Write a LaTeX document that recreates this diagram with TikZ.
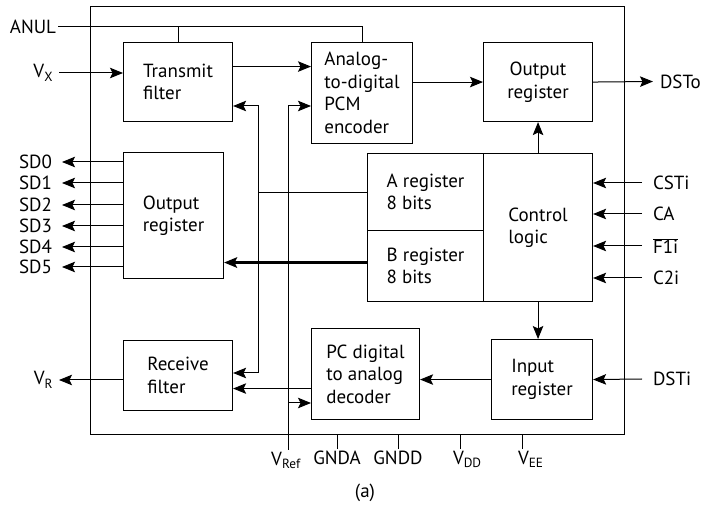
\documentclass[tikz,border=0pt]{standalone}
\usepackage{fontspec}
\setmainfont{PT Sans}
\usetikzlibrary{arrows.meta,calc}

\tikzset{
  sig/.style={-{Stealth[length=13pt, width=10.5pt, inset=2.5pt]}},
  bisig/.style={{Stealth[length=13pt, width=10.5pt, inset=2.5pt]}-{Stealth[length=13pt, width=10.5pt, inset=2.5pt]}},
  blk/.style={draw, line width=1.1pt, anchor=north west, align=left}
}

\begin{document}
\begin{tikzpicture}[x=1pt, y=-1pt, line width=1pt,
  every node/.style={font=\fontsize{19}{22.5}\selectfont, inner sep=1.5pt}]

  \useasboundingbox (0,0) rectangle (705,510);

  % =========================
  % chip outline and blocks
  % =========================
  \node[blk, minimum width=534pt, minimum height=428pt] (chip) at (90,6) {};

  \node[blk, minimum width=109pt, minimum height=79pt]  (tx)    at (123,42)  {Transmit\\filter};
  \node[blk, minimum width=101pt, minimum height=101pt] (adc)   at (311,42)  {Analog-\\to-digital\\PCM\\encoder};
  \node[blk, align=center, minimum width=109pt, minimum height=79pt] (oreg) at (483,42) {Output\\register};
  \node[blk, minimum width=100pt, minimum height=126pt] (sdreg) at (123,152) {Output\\register};
  \node[blk, minimum width=116pt, minimum height=77pt]  (areg)  at (367,153) {A register\\8 bits};
  \node[blk, minimum width=116pt, minimum height=71pt]  (breg)  at (367,230) {B register\\8 bits};
  \node[blk, minimum width=109pt, minimum height=148pt] (ctrl)  at (483,153) {Control\\logic};
  \node[blk, minimum width=109pt, minimum height=70pt]  (rx)    at (123,340) {Receive\\filter};
  \node[blk, minimum width=108pt, minimum height=91pt]  (dac)   at (311,328) {PC digital\\to analog\\decoder};
  \node[blk, minimum width=101pt, minimum height=80pt]  (ireg)  at (491,339) {Input\\register};

  % =========================
  % transmit path
  % =========================
  \coordinate (anul) at (58,27);
  \draw (anul) -| (adc.north);
  \draw (tx.north) -- (tx.north |- anul);
  \node[anchor=east] (anullab) at (anul) {ANUL};

  \coordinate (vx) at (59,73);
  \draw[sig] (vx) -- (vx -| tx.west);
  \node[anchor=east] (vxlab) at ([xshift=-4pt]vx) {V\textsubscript{X}};

  \draw[sig] ([yshift=15.5pt]tx.east) -- ([yshift=15.5pt]tx.east -| adc.west);
  \draw[sig] (oreg.west -| adc.east) -- (oreg.west);

  \coordinate (dsto) at (653,81.5);
  \draw[sig] (oreg.east) -- (dsto);
  \node[anchor=west] (dstolab) at ([xshift=5pt]dsto) {DSTo};

  % =========================
  % control logic and registers
  % =========================
  \draw[sig] (ctrl.north) -- (oreg.south);
  \draw[sig] (ctrl.south) -- (ctrl.south |- ireg.north);

  \foreach \n/\y/\lab in {csti/183/CSTi, ca/214/CA, fone/246/{$\overline{\mbox{F1i}}$}, ctwo/278/C2i}{
    \coordinate (\n) at (642,\y);
    \draw[sig] (\n) -- (\n -| ctrl.east);
    \node[anchor=west] (lab\n) at ([xshift=9pt]\n) {\lab};
  }

  \foreach \i/\y in {0/162, 1/183, 2/205, 3/226, 4/247, 5/267}{
    \coordinate (sd\i) at (62,\y);
    \draw[sig] (sd\i -| sdreg.west) -- (sd\i);
    \node[anchor=east] (labsd\i) at ([xshift=-8pt]sd\i) {SD\i};
  }

  \draw[sig, line width=2.2pt] ([yshift=3.5pt]breg.west) -- ([yshift=3.5pt]breg.west -| sdreg.east);

  % filter bus from A register
  \coordinate (btop) at (258,106);
  \coordinate (bbot) at (258,373);
  \draw[bisig] (btop -| tx.east) -- (btop) -- (bbot) -- (bbot -| rx.east);
  \draw (areg.west) -- (areg.west -| btop);

  % =========================
  % receive path
  % =========================
  \coordinate (dsti) at (642,379);
  \draw[sig] (dsti) -- (ireg.east);
  \node[anchor=west] (dstilab) at ([xshift=9pt]dsti) {DSTi};

  \draw[sig] (ireg.west) -- (ireg.west -| dac.east);
  \draw[sig] ([yshift=-14.5pt]dac.west) -- ([yshift=-14.5pt]dac.west -| rx.east);

  \coordinate (vr) at (59,380);
  \draw[sig] (vr -| rx.west) -- (vr);
  \node[anchor=east] (vrlab) at ([xshift=-4pt]vr) {V\textsubscript{R}};

  % =========================
  % reference and supply pins
  % =========================
  \coordinate (vref) at (288,450);
  \coordinate (vtop) at (288,106);
  \coordinate (vdec) at (288,403);
  \draw[sig] (vref) -- (vtop) -- (vtop -| adc.west);
  \draw[sig] (vdec) -- (vdec -| dac.west);
  \node[anchor=north] (vreflab) at ([xshift=-2pt]vref) {V\textsubscript{Ref}};

  \foreach \n/\x in {gnda/337, gndd/398, vdd/460, vee/522}{
    \coordinate (\n) at (\x,449);
    \draw (\n) -- (\n |- chip.south);
  }
  \node[anchor=north] (gndalab) at (gnda) {GNDA};
  \node[anchor=north] (gnddlab) at (gndd) {GNDD};
  \node[anchor=north west] (vddlab) at ([xshift=-9pt]vdd) {V\textsubscript{DD}};
  \node[anchor=north west] (veelab) at ([xshift=-6pt]vee) {V\textsubscript{EE}};

  \node (caption) at (365,493) {(a)};

\end{tikzpicture}
\end{document}
